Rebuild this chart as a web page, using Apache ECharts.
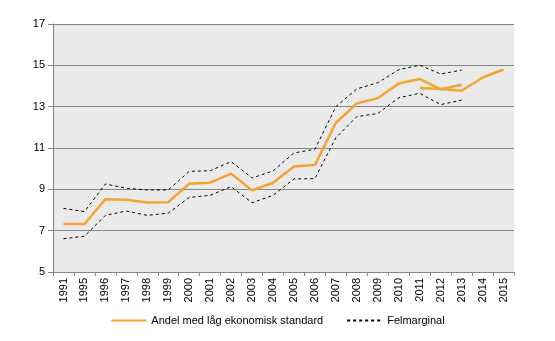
<!DOCTYPE html>
<html><head><meta charset="utf-8">
<script src="https://cdn.jsdelivr.net/npm/echarts@6/dist/echarts.min.js"></script>
<style>html,body{margin:0;padding:0;background:#fff}#c{width:555px;height:341px}</style>
</head><body><div id="c"></div>
<script>
const years = ['1991','1995','1996','1997','1998','1999','2000','2001','2002','2003','2004','2005','2006','2007','2008','2009','2010','2011','2012','2013','2014','2015'];
const andelOld = [7.32,7.32,8.52,8.5,8.36,8.38,9.27,9.32,9.76,8.95,9.32,10.1,10.18,12.22,13.16,13.41,14.12,14.34,13.84,14.06,null,null];
const andelNew = [null,null,null,null,null,null,null,null,null,null,null,null,null,null,null,null,null,13.9,13.85,13.77,14.41,14.8];
const upper = [8.08,7.92,9.26,9.05,8.97,8.97,9.87,9.9,10.34,9.55,9.89,10.76,10.94,13.0,13.86,14.16,14.79,15.01,14.58,14.77,null,null];
const lower = [6.61,6.73,7.74,7.95,7.74,7.85,8.61,8.71,9.13,8.35,8.71,9.5,9.52,11.5,12.52,12.67,13.43,13.65,13.1,13.32,null,null];
const yTicks = {min:5, max:17, interval:2};
const nameA = 'Andel med låg ekonomisk standard';
const nameF = 'Felmarginal';

const orange = '#F2A330';
const chart = echarts.init(document.getElementById('c'), null, {renderer:'canvas'});
const font = 'Liberation Sans, Arial, sans-serif';
function lineSeries(name, data, color, w, dashed, z){
  return {name, type:'line', data, symbol:'none', showSymbol:false, connectNulls:false, z,
    lineStyle:{color, width:w, type: dashed ? [3,3] : 'solid'}, itemStyle:{color}, emphasis:{disabled:true}, animation:false};
}
chart.setOption({
  animation:false,
  backgroundColor:'#fff',
  grid:{left:53, right:41, top:24, bottom:69, show:true, backgroundColor:'#EAEAEA', borderWidth:0},
  legend:{bottom:10, left:'center', itemWidth:35, itemHeight:10, itemGap:23,
    itemStyle:{opacity:0, borderWidth:0},
    textStyle:{fontFamily:font, fontSize:11, color:'#000'},
    data:[nameA, nameF]},
  xAxis:{type:'category', data:years, boundaryGap:true,
    axisLine:{lineStyle:{color:'#868686', width:1}},
    axisTick:{show:true, alignWithLabel:false, length:4, lineStyle:{color:'#868686'}},
    axisLabel:{rotate:90, fontFamily:font, fontSize:11, color:'#000', margin:6, interval:0},
    splitLine:{show:false}},
  yAxis:{type:'value', min:yTicks.min, max:yTicks.max, interval:yTicks.interval,
    axisLine:{show:true, lineStyle:{color:'#868686', width:1}},
    axisTick:{show:true, length:5, lineStyle:{color:'#868686'}},
    axisLabel:{fontFamily:font, fontSize:11, color:'#000', margin:8},
    splitLine:{show:true, lineStyle:{color:'#868686', width:1}}},
  series:[
    lineSeries(nameF, upper, '#000', 1, true, 2),
    lineSeries(nameF, lower, '#000', 1, true, 2),
    lineSeries(nameA, andelOld, orange, 2.5, false, 3),
    lineSeries(nameA, andelNew, orange, 2.5, false, 3)
  ]
});
</script></body></html>
